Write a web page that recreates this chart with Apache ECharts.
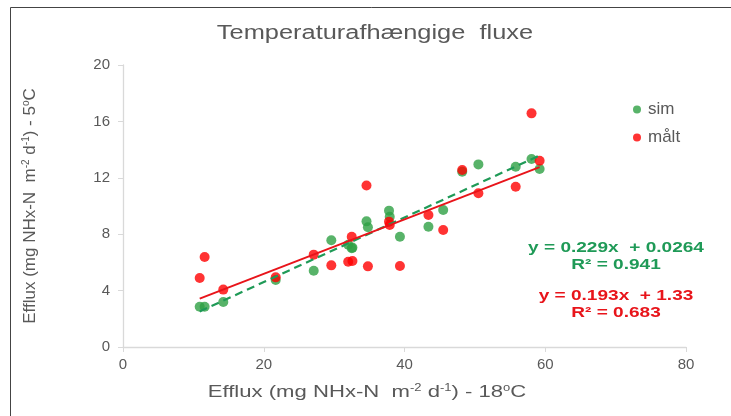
<!DOCTYPE html>
<html>
<head>
<meta charset="utf-8">
<script src="https://cdn.jsdelivr.net/npm/echarts@6/dist/echarts.min.js"></script>
<style>
html,body{margin:0;padding:0;background:#fff;}
#chart{width:731px;height:416px;}
</style>
</head>
<body>
<div id="chart"></div>
<script>
// Efflux at 18 °C (x) shared by both series
const xVals = [10.9, 11.6, 14.25, 21.7, 27.1, 29.6, 32.0, 32.5, 32.6, 34.6, 34.8, 37.8, 37.9, 39.35, 43.4, 45.5, 48.2, 50.5, 55.8, 58.05, 59.2];
// Efflux at 5 °C — simulated
const simY = [2.85, 2.85, 3.19, 4.75, 5.41, 7.57, 7.25, 7.0, 7.05, 8.91, 8.49, 9.67, 9.24, 7.82, 8.53, 9.72, 12.43, 12.95, 12.79, 13.33, 12.62];
// Efflux at 5 °C — measured (målt)
const maltY = [4.89, 6.38, 4.07, 4.94, 6.55, 5.79, 6.05, 7.82, 6.1, 11.45, 5.72, 8.89, 8.65, 5.74, 9.36, 8.30, 12.55, 10.9, 11.37, 16.57, 13.21];
// linear trendlines: [slope, intercept, R²]
const simFit = [0.229, 0.0264, 0.941];
const maltFit = [0.193, 1.33, 0.683];
const titleText = 'Temperaturafhængige  fluxe';
const xName = 'Efflux (mg NHx-N  m{sup|-2} d{sup|-1}) - 18{sup|o}C';
const yName = 'Efflux (mg NHx-N  m{sup|-2} d{sup|-1}) - 5{sup|o}C';

const xMin = Math.min(...xVals), xMax = Math.max(...xVals);
const pairs = ys => xVals.map((x, i) => [x, ys[i]]);
const fitLine = f => [[xMin, f[0] * xMin + f[1]], [xMax, f[0] * xMax + f[1]]];

const GREEN = '#2ea043', GREEN_L = '#1f9a57', RED = '#ff0000', RED_L = '#e8141a', GREY = '#595959';
const FONT = 'Liberation Sans, Arial, sans-serif';
const supRich = { sup: { fontSize: 10, fill: GREY, color: GREY, padding: [0, 0, 8, 0], fontFamily: FONT } };

function eqText(x, y, text, color) {
  return { type: 'text', x: x, y: y, scaleX: 1.27, silent: true,
    style: { text: text, fill: color, font: 'bold 15px ' + FONT, textAlign: 'center', textVerticalAlign: 'middle' } };
}

const chart = echarts.init(document.getElementById('chart'));
chart.setOption({
  animation: false,
  backgroundColor: '#fff',
  textStyle: { fontFamily: FONT },
  legend: {
    orient: 'vertical', left: 628, top: 96, itemGap: 11,
    itemWidth: 8, itemHeight: 8, icon: 'circle',
    data: ['sim', 'målt'],
    textStyle: { color: GREY, fontSize: 17, fontFamily: FONT, padding: [0, 0, 0, 2] }
  },
  grid: { left: 123, right: 45, top: 65, bottom: 69 },
  xAxis: {
    type: 'value', min: 0, max: 80, interval: 20,
    axisLine: { lineStyle: { color: '#d9d9d9', width: 1.3 } },
    axisTick: { show: true, length: 5, lineStyle: { color: '#d9d9d9' } },
    axisLabel: { color: GREY, fontSize: 15, margin: 10, fontFamily: FONT },
    splitLine: { show: false }
  },
  yAxis: {
    type: 'value', min: 0, max: 20, interval: 4,
    name: yName,
    nameLocation: 'middle', nameGap: 84,
    nameTextStyle: { color: GREY, fontSize: 17, fontFamily: FONT, rich: supRich },
    axisLine: { show: true, lineStyle: { color: '#d9d9d9', width: 1.3 } },
    axisTick: { show: true, length: 5, lineStyle: { color: '#d9d9d9' } },
    axisLabel: { color: GREY, fontSize: 15, margin: 13, fontFamily: FONT },
    splitLine: { show: false }
  },
  series: [
    { name: 'sim', type: 'scatter', data: pairs(simY), symbolSize: 10, itemStyle: { color: GREEN }, z: 2 },
    { name: 'målt', type: 'scatter', data: pairs(maltY), symbolSize: 10, itemStyle: { color: RED }, z: 3 },
    { name: 'sim trend', type: 'line', data: fitLine(simFit), symbol: 'none', silent: true,
      lineStyle: { color: GREEN_L, width: 2.2, type: [8, 5] }, z: 4 },
    { name: 'målt trend', type: 'line', data: fitLine(maltFit), symbol: 'none', silent: true,
      lineStyle: { color: RED_L, width: 2 }, z: 5 }
  ],
  graphic: [
    { type: 'rect', left: 8, top: 5, shape: { width: 760, height: 450 },
      style: { fill: 'none', stroke: '#444', lineWidth: 1 }, silent: true, z: -1 },
    { type: 'text', x: 375, y: 33, scaleX: 1.27, silent: true,
      style: { text: titleText, fill: GREY, font: '20px ' + FONT, textAlign: 'center', textVerticalAlign: 'middle' } },
    { type: 'text', x: 367, y: 392, scaleX: 1.3, silent: true,
      style: { text: xName, fill: GREY, font: '17px ' + FONT, textAlign: 'center', textVerticalAlign: 'middle', rich: supRich } },
    eqText(616, 248, 'y = ' + simFit[0] + 'x  + ' + simFit[1], GREEN_L),
    eqText(616, 265, 'R² = ' + simFit[2], GREEN_L),
    eqText(616, 296, 'y = ' + maltFit[0] + 'x  + ' + maltFit[1], RED_L),
    eqText(616, 313, 'R² = ' + maltFit[2], RED_L)
  ]
});
</script>
</body>
</html>
